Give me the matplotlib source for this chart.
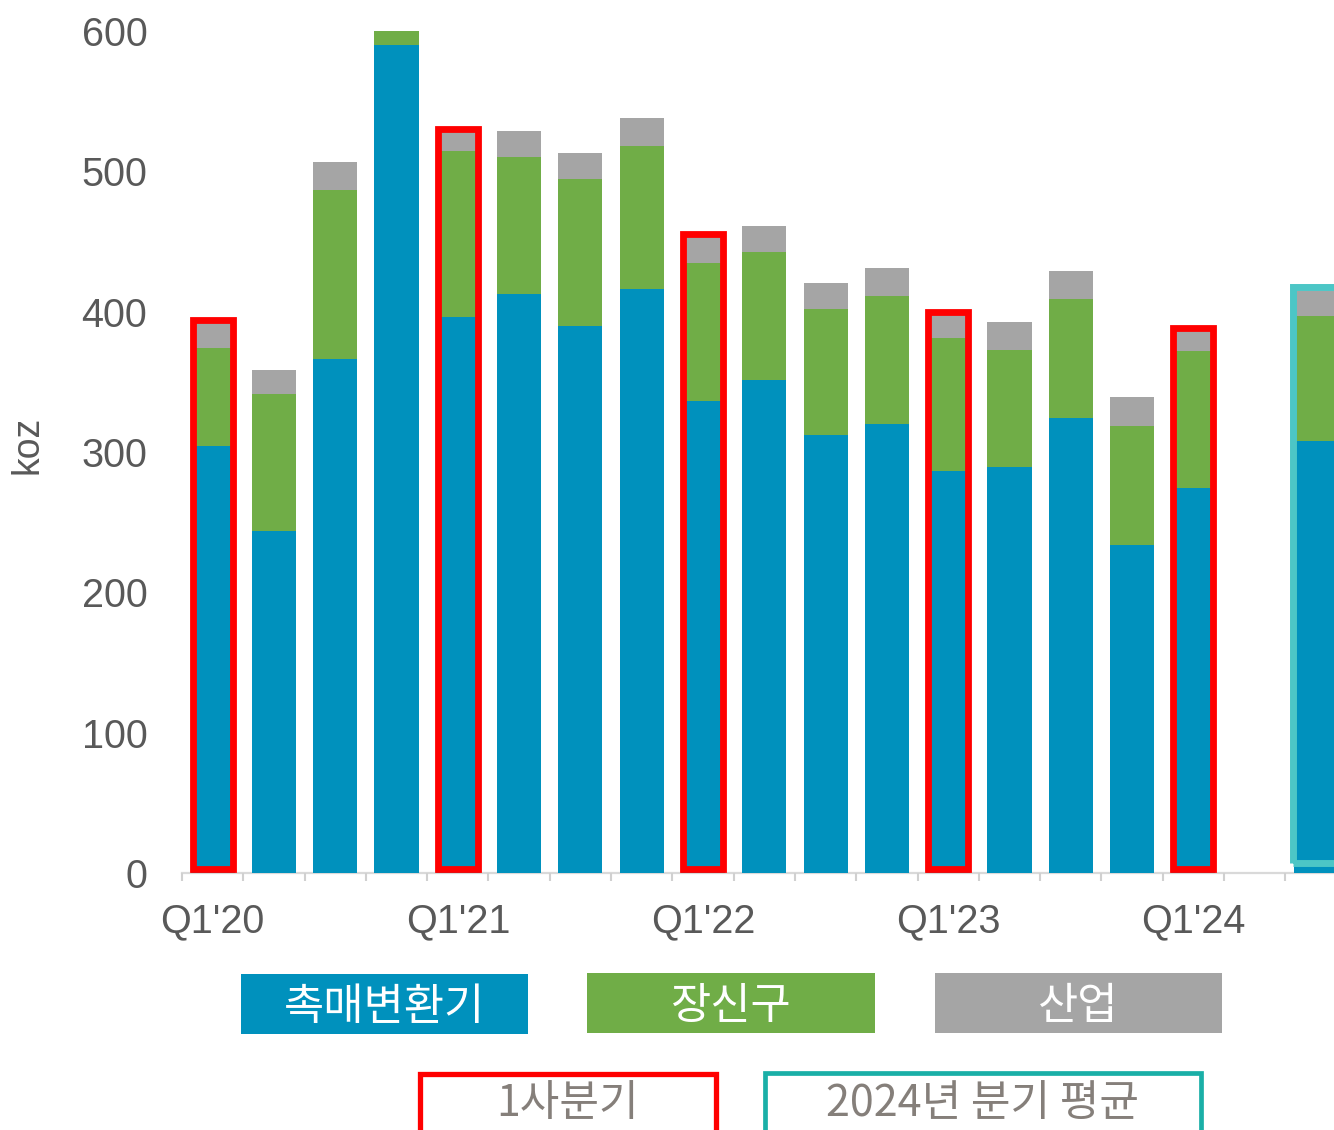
import matplotlib
matplotlib.use("Agg")
import matplotlib.pyplot as plt
from matplotlib.patches import Rectangle
import numpy as np

plt.rcParams['font.family'] = ['Liberation Sans', 'Noto Sans CJK KR', 'DejaVu Sans']

# ---- data ----
quarters = ["Q1'20", "Q2'20", "Q3'20", "Q4'20",
            "Q1'21", "Q2'21", "Q3'21", "Q4'21",
            "Q1'22", "Q2'22", "Q3'22", "Q4'22",
            "Q1'23", "Q2'23", "Q3'23", "Q4'23",
            "Q1'24"]
autocatalyst = [304.6, 244.0, 366.4, 590.0, 396.3, 412.9, 389.9, 416.3,
                336.6, 351.2, 312.2, 320.0, 286.5, 289.2, 324.5, 233.8, 274.6]
jewellery = [69.4, 97.0, 120.6, 10.5, 118.1, 97.2, 104.8, 101.4,
             98.2, 91.4, 89.6, 91.5, 94.8, 83.6, 84.8, 85.0, 97.2]
industrial = [20.0, 17.5, 19.5, 0.0, 15.6, 18.8, 18.7, 20.2,
              20.2, 18.8, 18.4, 19.9, 18.2, 19.9, 20.0, 20.7, 16.7]
avg_2024 = [307.8, 89.4, 17.4]   # autocatalyst, jewellery, industrial
q1_labels = ["Q1'20", "Q1'21", "Q1'22", "Q1'23", "Q1'24"]
series_names = ["촉매변환기", "장신구", "산업"]
legend2_names = ["1사분기", "2024년 분기 평균"]
yticks = [0, 100, 200, 300, 400, 500, 600]

# ---- style ----
C_BLUE = '#0091BD'
C_GREEN = '#70AD47'
C_GRAY = '#A5A5A5'
C_RED = '#FF0000'
C_TEAL = '#4CC6C6'
C_TEAL_LEG = '#1AAFA7'
C_TXT = '#595959'
KFONT = ['Noto Sans CJK KR', 'DejaVu Sans']

W, H = 1334, 1130
fig = plt.figure(figsize=(W / 100, H / 100), dpi=100)
ax = fig.add_axes([182 / W, 1 - 873 / H, (W - 182) / W, (873 - 31) / H])

n = len(quarters)
x = np.arange(n)
xa = n + 1  # average bar position (after a gap)

auto = np.array(autocatalyst)
jew = np.array(jewellery)
ind = np.array(industrial)
bw = 0.72
ax.bar(x, auto, bw, color=C_BLUE, zorder=2)
ax.bar(x, jew, bw, bottom=auto, color=C_GREEN, zorder=2)
ax.bar(x, ind, bw, bottom=auto + jew, color=C_GRAY, zorder=2)

ax.bar([xa], [avg_2024[0]], bw, color=C_BLUE, zorder=2)
ax.bar([xa], [avg_2024[1]], bw, bottom=[avg_2024[0]], color=C_GREEN, zorder=2)
ax.bar([xa], [avg_2024[2]], bw, bottom=[avg_2024[0] + avg_2024[1]], color=C_GRAY, zorder=2)

# red outlines around Q1 bars
totals = auto + jew + ind
q1_idx = [quarters.index(q) for q in q1_labels]
for i in q1_idx:
    ax.bar([i], [totals[i] - 3], 0.65, bottom=3, fill=False, edgecolor=C_RED,
           linewidth=4.9, zorder=3)
# teal outline around 2024 average
avg_total = sum(avg_2024)
ax.bar([xa], [avg_total + 3 - 7], 0.74, bottom=7, fill=False, edgecolor=C_TEAL,
       linewidth=5.0, zorder=3)

ax.set_xlim(-0.5, (W - 212.5) / 61.3)
ax.set_ylim(0, 600)

for s in ['top', 'right', 'left']:
    ax.spines[s].set_visible(False)
ax.spines['bottom'].set_color('#D9D9D9')
ax.spines['bottom'].set_linewidth(1.6)
ax.spines['bottom'].set_zorder(1)

ax.set_yticks(yticks)
ax.set_yticklabels([str(v) for v in yticks])
ax.tick_params(axis='y', length=0, pad=25, labelsize=28.5, labelcolor=C_TXT)

ax.set_xticks(q1_idx)
ax.set_xticklabels(q1_labels)
ax.set_xticks(np.arange(-0.5, n + 1.5, 1.0), minor=True)
ax.tick_params(axis='x', which='major', length=0, pad=21, labelsize=28.5, labelcolor=C_TXT)
ax.tick_params(axis='x', which='minor', length=6, width=1.5, color='#D0D0D0')

fig.text(28 / W, 1 - 445 / H, 'koz', rotation=90, ha='center', va='center',
         fontsize=27, color=C_TXT)

# ---- legend (drawn in figure pixels) ----
def px_rect(x0, y0, x1, y1, **kw):
    r = Rectangle((x0 / W, 1 - y1 / H), (x1 - x0) / W, (y1 - y0) / H,
                  transform=fig.transFigure, **kw)
    fig.patches.append(r)

cols = [C_BLUE, C_GREEN, C_GRAY]
boxes = [(241, 974, 528, 1034), (587, 973, 875, 1033), (935, 973, 1222, 1033)]
for name, col, (x0, y0, x1, y1) in zip(series_names, cols, boxes):
    px_rect(x0, y0, x1, y1, facecolor=col, edgecolor='none')
    fig.text((x0 + x1) / 2 / W, 1 - ((y0 + y1) / 2 + 3) / H, name, ha='center', va='center',
             fontsize=31.5, color='white', family=KFONT)

px_rect(419.5, 1073.5, 716, 1140, facecolor='white', edgecolor=C_RED, linewidth=3.8)
fig.text(567.5 / W, 1 - 1104 / H, legend2_names[0], ha='center', va='center',
         fontsize=31, color='#857F7A', family=KFONT)
px_rect(765, 1073, 1201, 1140, facecolor='white', edgecolor=C_TEAL_LEG, linewidth=3.4)
fig.text(983 / W, 1 - 1104 / H, legend2_names[1], ha='center', va='center',
         fontsize=31, color='#857F7A', family=KFONT)

fig.savefig('out.png', dpi=100)
